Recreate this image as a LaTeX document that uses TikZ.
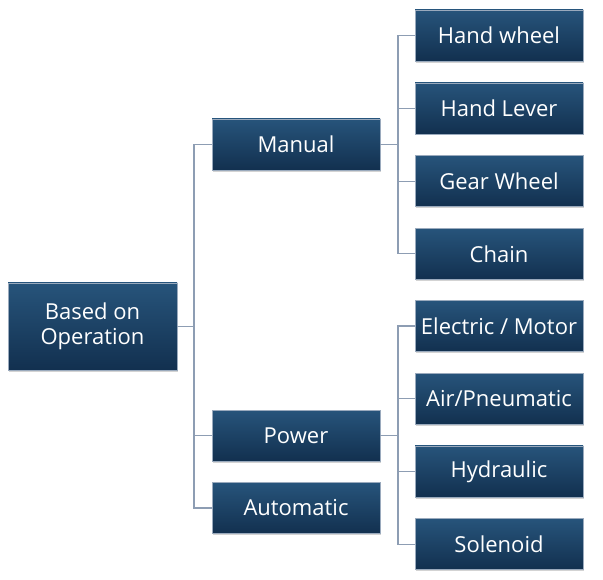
\documentclass[tikz,border=0pt]{standalone}
\usepackage{fontspec}
\setmainfont{Open Sans}
\usepackage{tikz}
\usetikzlibrary{calc, shadows}
\definecolor{boxtop}{HTML}{27547B}
\definecolor{boxbot}{HTML}{12304F}
\definecolor{boxrim}{HTML}{9AAABD}
\definecolor{linkgray}{HTML}{8D9DB3}

\begin{document}
\begin{tikzpicture}[
    x = 1pt, y = -1pt,
    box/.style = {top color=boxtop, bottom color=boxbot, draw=boxrim, line width=0.4pt,
        text=white, font=\fontsize{22}{25}\selectfont, align=center,
        minimum width=168pt, minimum height=51pt, inner sep=0pt,
        drop shadow={opacity=0.35, shadow xshift=1.2pt, shadow yshift=-1.6pt}},
    link/.style = {draw=linkgray, line width=1.1pt}
  ]
  \useasboundingbox (0,0) rectangle (603,580);

  % root and middle level
  \node[box, minimum width=169pt, minimum height=87pt] (ROOT) at (92.5,326.5) {Based on\\Operation};
  \node[box] (MAN) at (296,144.5) {Manual};
  \node[box] (POW) at (296,435.5) {Power};
  \node[box] (AUT) at (296,508) {Automatic};

  % leaves
  \foreach \t [count=\i] in {Hand wheel, Hand Lever, Gear Wheel, Chain}
    \node[box] (M\i) at (499,35.5+72.8*\i-72.8) {\t};
  \foreach \t [count=\i] in {Electric / Motor, Air/Pneumatic, Hydraulic, Solenoid}
    \node[box] (P\i) at (499,326+72.7*\i-72.7) {\t};

  \coordinate (rbus) at (194,0);
  \coordinate (mbus) at (398,0);
  \coordinate (pbus) at (398,0);

  % connectors
  \begin{scope}[on background layer/.try]
    \draw[link] (MAN.west) -- (MAN -| rbus) -- (AUT -| rbus) -- (AUT.west);
    \draw[link] (POW.west) -- (POW -| rbus);
    \draw[link] (ROOT.east) -- (ROOT -| rbus);

    \draw[link] (M1.west) -- (M1 -| mbus) -- (M4 -| mbus) -- (M4.west);
    \foreach \i in {2,3}
      \draw[link] (M\i.west) -- (M\i -| mbus);
    \draw[link] (MAN.east) -- (MAN -| mbus);

    \draw[link] (P1.west) -- (P1 -| pbus) -- (P4 -| pbus) -- (P4.west);
    \foreach \i in {2,3}
      \draw[link] (P\i.west) -- (P\i -| pbus);
    \draw[link] (POW.east) -- (POW -| pbus);
  \end{scope}
\end{tikzpicture}
\end{document}
